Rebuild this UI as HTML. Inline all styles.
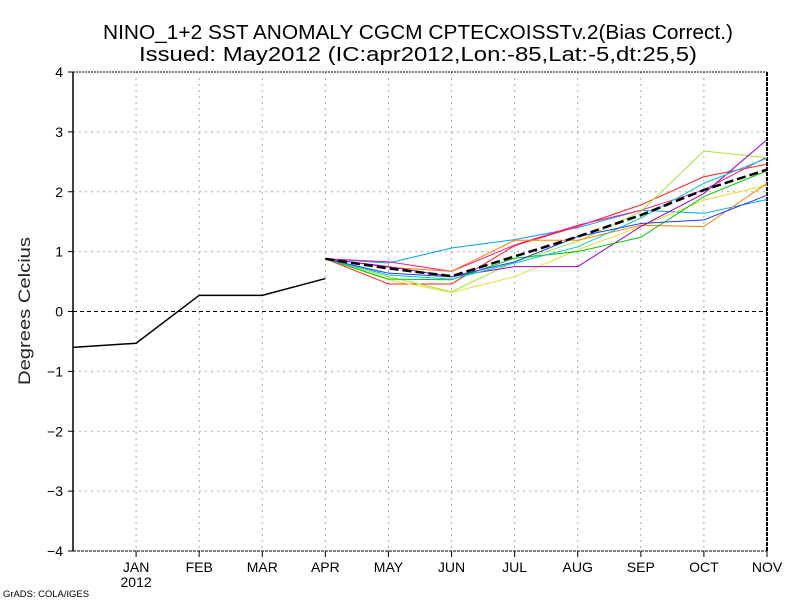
<!DOCTYPE html>
<html><head><meta charset="utf-8"><style>
html,body{margin:0;padding:0;background:#fff;}
svg{display:block;font-family:"Liberation Sans",sans-serif;}
</style></head><body>
<svg id="chart" width="800" height="600" viewBox="0 0 800 600">
<rect width="800" height="600" fill="#fff"/>
<text x="418" y="39" font-size="20" text-anchor="middle" textLength="630" lengthAdjust="spacingAndGlyphs">NINO_1+2 SST ANOMALY CGCM CPTECxOISSTv.2(Bias Correct.)</text>
<text x="418" y="61" font-size="20" text-anchor="middle" textLength="558" lengthAdjust="spacingAndGlyphs">Issued:   May2012 (IC:apr2012,Lon:-85,Lat:-5,dt:25,5)</text>
<text x="0" y="0" font-size="17" text-anchor="middle" transform="translate(30,311) rotate(-90)" fill="#222" textLength="148" lengthAdjust="spacingAndGlyphs">Degrees Celcius</text>
<text x="3" y="597" font-size="9" textLength="86" lengthAdjust="spacingAndGlyphs">GrADS: COLA/IGES</text>
<g id="grid"></g><g id="axes"></g><g id="series"></g>
</svg>
<script>
const months = ["DEC","JAN","FEB","MAR","APR","MAY","JUN","JUL","AUG","SEP","OCT","NOV"];
const yTicks = [-4,-3,-2,-1,0,1,2,3,4];
const observed = [-0.6,-0.53,0.27,0.27,0.55];
const forecastMonths = ["APR","MAY","JUN","JUL","AUG","SEP","OCT","NOV"];
const memberColors = ["#00a0ff","#ff2020","#ff1090","#a0e632","#e6dc32","#ff8000","#a000c8","#00c800","#00c8c8","#1e3cff"];
const member1 = [0.88,0.81,1.06,1.20,1.40,1.69,1.64,1.87];
const member2 = [0.88,0.46,0.46,1.10,1.42,1.78,2.25,2.46];
const member3 = [0.88,0.83,0.67,1.11,1.44,1.69,2.03,2.58];
const member4 = [0.88,0.58,0.33,0.83,1.17,1.67,2.68,2.57];
const member5 = [0.88,0.53,0.32,0.58,1.03,1.42,1.86,2.11];
const member6 = [0.88,0.74,0.67,1.19,1.19,1.44,1.42,2.14];
const member7 = [0.88,0.75,0.58,0.75,0.75,1.42,1.97,2.87];
const member8 = [0.88,0.54,0.53,0.89,1.00,1.24,1.92,2.35];
const member9 = [0.88,0.61,0.54,0.81,1.08,1.56,2.14,2.56];
const member10 = [0.88,0.64,0.58,0.83,1.25,1.47,1.53,1.94];
const ensembleMean = [0.88,0.72,0.59,0.92,1.25,1.61,2.03,2.37];
const members=[member1,member2,member3,member4,member5,member6,member7,member8,member9,member10];
const NS="http://www.w3.org/2000/svg";
const X0=73,X1=767,Y4=72,Yn4=551;
function xs(i){return X0+i*(X1-X0)/(months.length-1);}
function ys(v){return Y4+(4-v)*(Yn4-Y4)/8;}
function mk(tag,attrs,parent){const e=document.createElementNS(NS,tag);for(const k in attrs)e.setAttribute(k,attrs[k]);parent.appendChild(e);return e;}
const gridG=document.getElementById('grid'),axesG=document.getElementById('axes'),serG=document.getElementById('series');
yTicks.forEach(t=>{
 const y=ys(t);
 if(t!==-4&&t!==0&&t!==4){const l=mk('line',{x1:X0,x2:X1,y1:y,y2:y,stroke:'#aaa','stroke-dasharray':'2,4'},gridG);
 
 }
 const tk=mk('line',{x1:X0-5,x2:X0,y1:y,y2:y,stroke:'#000'},axesG);
 
 
 const tx=mk('text',{x:X0-10,y:y+5,'font-size':14,'text-anchor':'end'},axesG);
 tx.textContent=(t<0?'\u2212'+(-t):String(t));
 
 
});
const zeroLine=mk('line',{x1:X0,x2:X1,y1:ys(0),y2:ys(0),stroke:'#000','stroke-dasharray':'4,3'},gridG);


months.forEach((m,i)=>{
 const x=xs(i);
 if(i>0&&i<months.length-1){const g=mk('line',{x1:x,x2:x,y1:Y4,y2:Yn4,stroke:'#aaa','stroke-dasharray':'2,4'},gridG);
 
 }
 if(i>0){
 const tk=mk('line',{x1:x,x2:x,y1:Yn4,y2:Yn4+6,stroke:'#000'},axesG);
 
 
 const tx=mk('text',{x:x,y:572,'font-size':14,'text-anchor':'middle'},axesG);
 tx.textContent=m;
 
 }
});
const yearLabel=mk('text',{x:xs(1),y:587,'font-size':14,'text-anchor':'middle'},axesG);
yearLabel.textContent='2012';


const frameTopLine=mk('line',{x1:X0,x2:X1,y1:Y4,y2:Y4,stroke:'#000','stroke-dasharray':'2,1'},axesG);


const frameBotLine=mk('line',{x1:X0,x2:X1,y1:Yn4,y2:Yn4,stroke:'#000','stroke-dasharray':'3,1'},axesG);


const frameLeftLine=mk('line',{x1:X0,x2:X0,y1:Y4,y2:Yn4,stroke:'#000','stroke-width':1.5},axesG);


const frameRightLine=mk('line',{x1:X1,x2:X1,y1:Y4,y2:Yn4,stroke:'#000','stroke-width':2,'stroke-dasharray':'4,1'},axesG);


const fcOffset=months.indexOf(forecastMonths[0]);
members.forEach((arr,k)=>{
 const p=mk('polyline',{points:arr.map((v,i)=>xs(fcOffset+i)+','+ys(v)).join(' '),fill:'none',stroke:memberColors[k],'stroke-width':1},serG);
 
 
});
const meanLine=mk('polyline',{points:ensembleMean.map((v,i)=>xs(fcOffset+i)+','+ys(v)).join(' '),fill:'none',stroke:'#000','stroke-width':2.5,'stroke-dasharray':'9,4'},serG);


const obsLine=mk('polyline',{points:observed.map((v,i)=>xs(i)+','+ys(v)).join(' '),fill:'none',stroke:'#000','stroke-width':1.5},serG);


</script>
</body></html>
